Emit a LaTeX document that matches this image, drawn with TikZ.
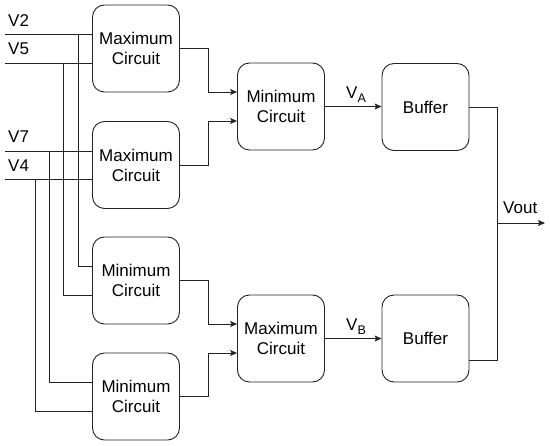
\documentclass[tikz,border=0pt]{standalone}
\usepackage{fontspec}
\setmainfont{Liberation Sans}
\usetikzlibrary{arrows.meta,calc}
\definecolor{ln}{HTML}{222222}
\newcommand{\mysub}[1]{\raisebox{-4pt}{\fontsize{12.5}{13}\selectfont #1}}
\begin{document}
\begin{tikzpicture}[x=1pt,y=-1pt,
  box/.style={draw=ln,line width=0.9pt,rounded corners=12pt,minimum width=87pt,minimum height=87pt,
    inner sep=0pt,align=center,font=\fontsize{17}{20}\selectfont},
  wire/.style={draw=ln,line width=0.9pt},
  arr/.style={wire,-{Stealth[length=7pt,width=6pt,inset=1.5pt]}},
  lbl/.style={inner sep=0pt,font=\fontsize{17}{20}\selectfont}]
\useasboundingbox (0,0) rectangle (550,446);
% left column
\node[box] (max1) at (136,48.5) {Maximum\\Circuit};
\node[box] (max2) at (136,165) {Maximum\\Circuit};
\node[box] (min1) at (136,280.5) {Minimum\\Circuit};
\node[box] (min2) at (136,396.5) {Minimum\\Circuit};
% middle column
\node[box] (minA) at (281,106.5) {Minimum\\Circuit};
\node[box] (maxB) at (281,338.5) {Maximum\\Circuit};
% buffers
\node[box] (buf1) at (425.5,107) {Buffer};
\node[box] (buf2) at (425.5,338.5) {Buffer};
% input labels
\node[lbl,anchor=base west] (l2) at (8,27) {V2};
\node[lbl,anchor=base west] (l5) at (8,55) {V5};
\node[lbl,anchor=base west] (l7) at (8,143) {V7};
\node[lbl,anchor=base west] (l4) at (8,172) {V4};
% input coordinates
\coordinate (v2) at (5,34);
\coordinate (v5) at (5,63);
\coordinate (v7) at (5,151);
\coordinate (v4) at (5,179.5);
\coordinate (j2) at (78,34);
\coordinate (j5) at (63,63);
\coordinate (j7) at (49,151);
\coordinate (j4) at (35,179.5);
\draw[wire] (v2) -- (max1.west |- v2);
\draw[wire] (v5) -- (max1.west |- v5);
\draw[wire] (v7) -- (max2.west |- v7);
\draw[wire] (v4) -- (max2.west |- v4);
\draw[wire] (j2) |- ([yshift=14.5pt]min1.west);
\draw[wire] (j5) |- ([yshift=-14.5pt]min1.west);
\draw[wire] (j7) |- ([yshift=14.5pt]min2.west);
\draw[wire] (j4) |- ([yshift=-14.5pt]min2.west);
% to middle column
\coordinate (mx) at (208,0);
\coordinate (inA1) at ([yshift=14.5pt]minA.west);
\coordinate (inA2) at ([yshift=-14.5pt]minA.west);
\coordinate (inB1) at ([yshift=14.5pt]maxB.west);
\coordinate (inB2) at ([yshift=-14.5pt]maxB.west);
\draw[arr] (max1.east) -| (mx |- inA1) -- (inA1);
\draw[arr] (max2.east) -| (mx |- inA2) -- (inA2);
\draw[arr] (min1.east) -| (mx |- inB1) -- (inB1);
\draw[arr] (min2.east) -| (mx |- inB2) -- (inB2);
% to buffers
\draw[arr] (minA.east) -- (buf1.west |- minA.east);
\draw[arr] (maxB.east) -- (buf2.west |- maxB.east);
\node[lbl,anchor=base west] (va) at (346,99) {V\mysub{A}};
\node[lbl,anchor=base west] (vb) at (346,331) {V\mysub{B}};
% output
\coordinate (ox) at (497,0);
\coordinate (o2) at ([yshift=-21.5pt]buf2.east);
\coordinate (vj) at (497,223);
\coordinate (vend) at (545,223);
\draw[wire] (buf1.east) -| (ox |- o2) -- (o2);
\draw[arr] (vj) -- (vend);
\node[lbl,anchor=base west] (vo) at (503,214) {Vout};
\end{tikzpicture}
\end{document}
